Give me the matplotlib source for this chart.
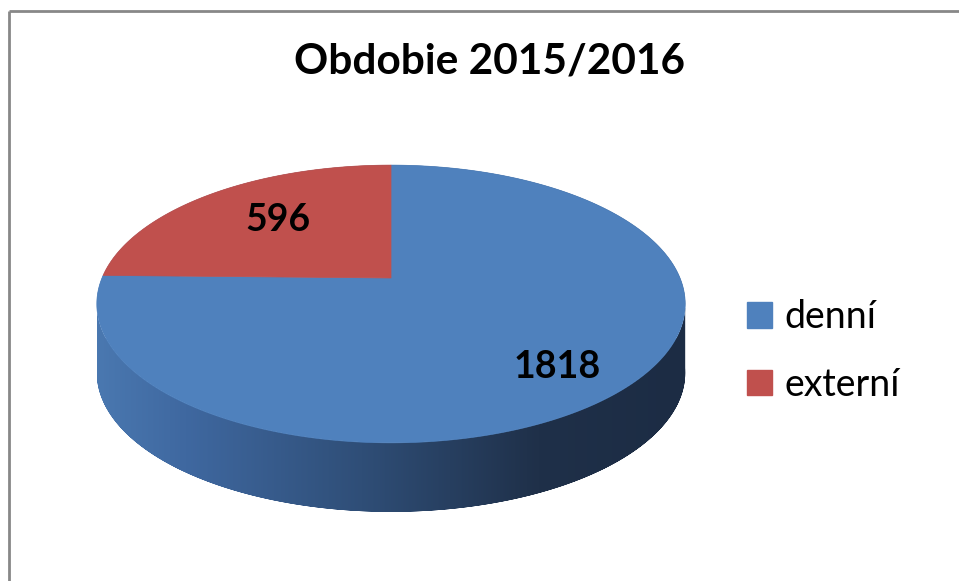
import numpy as np
import matplotlib
matplotlib.use('Agg')
import matplotlib.pyplot as plt
from matplotlib.patches import Polygon, Patch
from matplotlib.colors import LinearSegmentedColormap

plt.rcParams['font.family'] = ['Lato', 'DejaVu Sans']

# data
categories = ['denní', 'externí']
values = [1818, 596]
colors = ['#4f81bd', '#c0504d']
title = 'Obdobie 2015/2016'

# pie geometry in pixels (perspective-ish projection of a flat disk)
cx, cy = 391, 278
rx, s, a = 289, 134, 0.187
depth = 69


def project(t):
    X = np.cos(t)
    Z = np.sin(t)
    w = 1 + a * Z
    return cx + rx * X / w, cy - s * Z / w


fig = plt.figure(figsize=(9.59, 5.81), dpi=100)
ax = fig.add_axes([0, 0, 1, 1])
ax.set_xlim(0, 959)
ax.set_ylim(581, 0)
ax.axis('off')

# chart border (only top and left show in the crop)
ax.plot([9, 959], [11, 11], color='#888888', lw=2, solid_capstyle='butt')
ax.plot([9, 9], [11, 581], color='#888888', lw=2, solid_capstyle='butt')

# side of the pie
tt = np.linspace(0, 2 * np.pi, 721)
ex, ey = project(tt)
i_left = np.argmin(ex)
i_right = np.argmax(ex)
# lower arc: left extreme -> front -> right extreme
t_lo = np.linspace(tt[i_left], tt[i_right] + 2 * np.pi, 400)
lx, ly = project(t_lo)
side_pts = np.vstack([np.column_stack([lx, ly]),
                      np.column_stack([lx[::-1], ly[::-1] + depth])])
side = Polygon(side_pts, closed=True, facecolor='none', edgecolor='none')
ax.add_patch(side)
side_cmap = LinearSegmentedColormap.from_list(
    'side', [(0.0, '#4a78b0'), (0.15, '#3f68a0'), (0.45, '#2f4e77'),
             (0.75, '#1f3049'), (1.0, '#1c2c44')])
grad = np.linspace(0, 1, 256).reshape(1, -1)
im = ax.imshow(grad, cmap=side_cmap, aspect='auto',
               extent=[lx.min(), lx.max(), ly.max() + depth, ly.min()],
               zorder=1)
im.set_clip_path(side)

# top face wedges, first slice clockwise from 12 o'clock
total = sum(values)
angles = []
t0 = np.pi / 2
for v in values[::-1]:
    t1 = t0 + 2 * np.pi * v / total
    angles.append((t0, t1))
    t0 = t1
angles = angles[::-1]
for (t0, t1), c in zip(angles, colors):
    arc = np.linspace(t0, t1, 300)
    px, py = project(arc)
    pts = np.vstack([[cx, cy], np.column_stack([px, py])])
    ax.add_patch(Polygon(pts, closed=True, facecolor=c, edgecolor=c,
                         lw=0.5, zorder=2))

# value labels
label_pos = [(557, 367), (278, 220)]
for (x, y), v in zip(label_pos, values):
    ax.text(x, y, str(v), ha='center', va='center', fontsize=27,
            fontweight='bold', color='black', zorder=3)

ax.text(490, 62, title, ha='center', va='center', fontsize=30.5,
        fontweight='bold', color='black')

handles = [Patch(facecolor=c, edgecolor=c) for c in colors]
ax.legend(handles, categories, loc='center left',
          bbox_to_anchor=(732 / 959, 1 - 351 / 581), frameon=False,
          fontsize=27, handlelength=0.66, handleheight=0.66,
          handletextpad=0.35, labelspacing=0.85, borderaxespad=0)

fig.savefig('out.png', dpi=100)
